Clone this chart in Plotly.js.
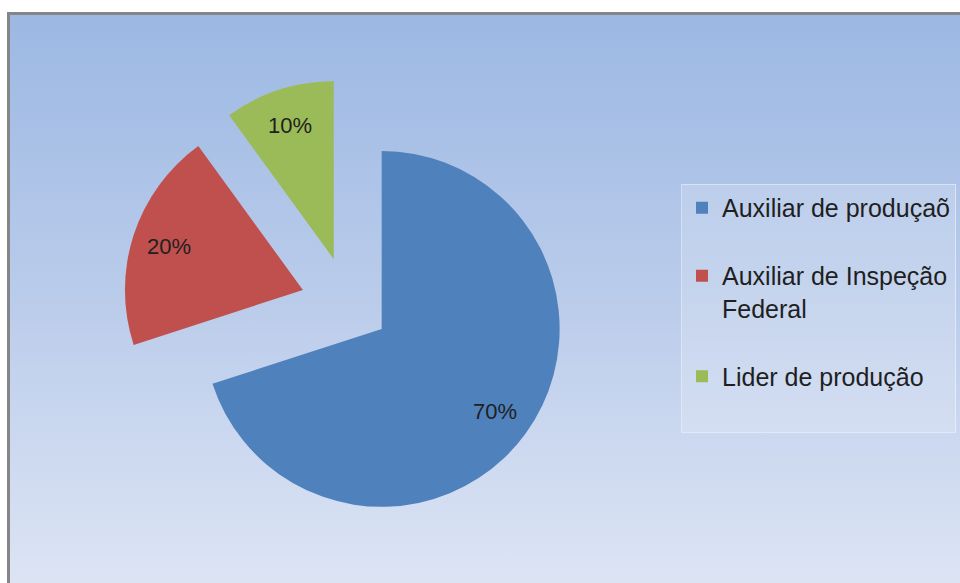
<!DOCTYPE html>
<html>
<head>
<meta charset="utf-8">
<script src="https://cdn.plot.ly/plotly-3.0.1.min.js"></script>
<style>
html,body{margin:0;padding:0;background:#ffffff;}
#wrap{position:relative;width:960px;height:583px;overflow:hidden;background:#ffffff;}
#bg{position:absolute;left:7px;top:12px;width:960px;height:600px;box-sizing:border-box;
  border-left:3px solid #858585;border-top:3px solid #858585;
  background:linear-gradient(to bottom,#9cb8e3 0%,#bccdeb 50%,#e0e7f5 100%);}
#chart{position:absolute;left:0;top:0;width:960px;height:583px;}
</style>
</head>
<body>
<div id="wrap">
  <div id="bg"></div>
  <div id="chart"></div>
</div>
<script>
// Data
const categories = ["Auxiliar de produçaõ", "Auxiliar de Inspeção<br>Federal", "Lider de produção"];
const values = [70, 20, 10];
const sliceColors = ["#4f81bd", "#c0504d", "#9bbb59"];
const pulls = [0.23, 0.27, 0.27];
// extra blank lines to spread legend entries like the original
const legendPad = ["<br> ", "<br> ", "<br> "];
const legendLabels = categories.map((c, i) => c + legendPad[i]);

const W = 960, H = 583;
const domX = [0.1277, 0.5985], domY = [0.0895, 0.8648];

const trace = {
  type: "pie",
  labels: legendLabels,
  values: values,
  sort: false,
  direction: "clockwise",
  rotation: 0,
  pull: pulls,
  marker: {colors: sliceColors, line: {width: 0}},
  textinfo: "none",
  textposition: "none",
  domain: {x: domX, y: domY},
  hoverinfo: "label+percent"
};

// percentage labels placed along each slice's bisector (derived from the values)
const total = values.reduce((a, b) => a + b, 0);
const cxPx = (domX[0] + domX[1]) / 2 * W;
const cyPx = (1 - (domY[0] + domY[1]) / 2) * H;
const maxPull = Math.max(...pulls);
const rPx = Math.min((domX[1] - domX[0]) * W, (domY[1] - domY[0]) * H) / 2 / (1 + maxPull);
let cum = 0;
const annotations = values.map((v, i) => {
  const mid = (cum + v / 2) / total * 2 * Math.PI;
  cum += v;
  const dx = Math.sin(mid), dy = -Math.cos(mid);
  const dist = (pulls[i] + 0.79) * rPx;
  const px = cxPx + dx * dist, py = cyPx + dy * dist;
  return {
    xref: "paper", yref: "paper",
    x: px / W, y: 1 - py / H,
    xanchor: "center", yanchor: "middle",
    showarrow: false,
    text: Math.round(v / total * 100) + "%",
    font: {family: "Liberation Sans, Arial, sans-serif", size: 22, color: "#1f1f1f"}
  };
});

const layout = {
  width: W,
  height: H,
  margin: {l: 0, r: 0, t: 0, b: 0},
  paper_bgcolor: "rgba(0,0,0,0)",
  plot_bgcolor: "rgba(0,0,0,0)",
  showlegend: true,
  annotations: annotations,
  legend: {
    x: 0.7094, xanchor: "left",
    y: 0.6844, yanchor: "top",
    valign: "top",
    bgcolor: "rgba(255,255,255,0.18)",
    bordercolor: "rgba(255,255,255,0.45)",
    borderwidth: 1,
    font: {family: "Liberation Sans, Arial, sans-serif", size: 25, color: "#1f1f1f"},
    itemwidth: 30
  }
};

Plotly.newPlot("chart", [trace], layout, {displayModeBar: false, staticPlot: true});
</script>
</body>
</html>
